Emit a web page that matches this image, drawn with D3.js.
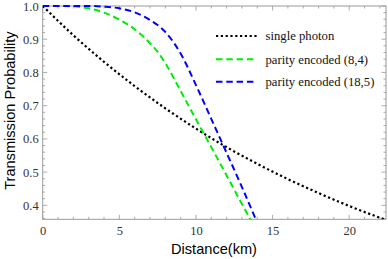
<!DOCTYPE html>
<html><head><meta charset="utf-8">
<script src="https://cdn.jsdelivr.net/npm/d3@7"></script>
<style>body{margin:0;background:#fff}svg{display:block}</style>
</head><body>
<script>
// Data
const singleX = [0, 2, 4, 6, 8, 10, 12, 14, 16, 18, 20, 22.4];
const singleY = [1.0, 0.912, 0.832, 0.759, 0.692, 0.631, 0.575, 0.525, 0.479, 0.437, 0.398, 0.356];
const p84X = [0, 1, 2, 3, 4, 5, 6, 7, 7.5, 8, 9, 10, 11, 12, 13, 13.55];
const p84Y = [1.0, 1.0, 0.999, 0.993, 0.980, 0.959, 0.930, 0.888, 0.862, 0.828, 0.744, 0.659, 0.575, 0.490, 0.404, 0.358];
const p185X = [0, 1, 2, 3, 4, 5, 6, 7, 8, 9, 10, 11, 12, 13, 13.9];
const p185Y = [1.0, 1.0, 1.0, 1.0, 0.998, 0.993, 0.981, 0.958, 0.922, 0.857, 0.762, 0.660, 0.558, 0.455, 0.358];
const seriesNames = ["single photon", "parity encoded (8,4)", "parity encoded (18,5)"];
const xTicks = [0, 5, 10, 15, 20];
const yTicks = [0.4, 0.5, 0.6, 0.7, 0.8, 0.9, 1.0];
const xLabel = "Distance(km)";
const yLabel = "Transmission Probability";

const W = 388, H = 259;
const L = 42.7, R = 386, T = 6, B = 219.3;
const svg = d3.select("body").append("svg").attr("width", W).attr("height", H);
const x = d3.scaleLinear().domain([0, 22.4]).range([L, R]);
const y = d3.scaleLinear().domain([0.358, 1.0]).range([B, T]);

const frame = "#999";
const tickFont = "'Liberation Serif','Times New Roman',serif";
const g = svg.append("g");

// minor/major ticks (inward) on all four sides
const xMinor = d3.range(0, 23, 1);
const yMinor = d3.range(0.36, 1.0001, 0.02).map(v => +v.toFixed(2));
xMinor.forEach(v => {
  const major = v % 5 === 0;
  const len = major ? 4.5 : 2.5;
  g.append("line").attr("x1", x(v)).attr("x2", x(v)).attr("y1", B).attr("y2", B - len).attr("stroke", frame).attr("stroke-width", 0.8);
  g.append("line").attr("x1", x(v)).attr("x2", x(v)).attr("y1", T).attr("y2", T + len).attr("stroke", frame).attr("stroke-width", 0.8);
});
yMinor.forEach(v => {
  const major = Math.abs(v * 10 - Math.round(v * 10)) < 1e-6;
  const len = major ? 4.5 : 2.5;
  g.append("line").attr("x1", L).attr("x2", L + len).attr("y1", y(v)).attr("y2", y(v)).attr("stroke", frame).attr("stroke-width", 0.8);
  g.append("line").attr("x1", R).attr("x2", R - len).attr("y1", y(v)).attr("y2", y(v)).attr("stroke", frame).attr("stroke-width", 0.8);
});

// axes via d3 (labels only; domain drawn as frame)
const xAxis = svg.append("g").attr("transform", `translate(0,${B})`)
  .call(d3.axisBottom(x).tickValues(xTicks).tickSize(0).tickPadding(7).tickFormat(d3.format("d")));
const yAxis = svg.append("g").attr("transform", `translate(${L},0)`)
  .call(d3.axisLeft(y).tickValues(yTicks).tickSize(0).tickPadding(4).tickFormat(d3.format(".1f")));
[xAxis, yAxis].forEach(a => {
  a.select(".domain").remove();
  a.selectAll("text").attr("font-family", tickFont).attr("font-size", 12.5).attr("fill", "#333");
});

svg.append("rect").attr("x", L).attr("y", T).attr("width", R - L).attr("height", B - T)
  .attr("fill", "none").attr("stroke", frame).attr("stroke-width", 1);

// clip
svg.append("clipPath").attr("id", "clip").append("rect").attr("x", L).attr("y", T - 2).attr("width", R - L).attr("height", B - T + 2);

const line = d3.line().curve(d3.curveMonotoneX).x(d => x(d[0])).y(d => y(d[1]));
const styles = [
  {xs: singleX, ys: singleY, color: "#000", dash: "2.2,2.6", w: 2.2},
  {xs: p84X, ys: p84Y, color: "#00ee00", dash: "6.5,3.8", w: 2},
  {xs: p185X, ys: p185Y, color: "#0000ff", dash: "6.5,3.8", w: 2}
];
const plot = svg.append("g").attr("clip-path", "url(#clip)");
styles.forEach(s => {
  plot.append("path").datum(s.xs.map((v, i) => [v, s.ys[i]]))
    .attr("d", line).attr("fill", "none").attr("stroke", s.color)
    .attr("stroke-width", s.w).attr("stroke-dasharray", s.dash);
});

// legend
const legY = [36, 59.3, 81.7];
styles.forEach((s, i) => {
  svg.append("line").attr("x1", 216).attr("x2", 257).attr("y1", legY[i]).attr("y2", legY[i])
    .attr("stroke", s.color).attr("stroke-width", s.w).attr("stroke-dasharray", s.dash);
  svg.append("text").attr("x", 265.5).attr("y", legY[i] + 4.3).text(seriesNames[i])
    .attr("font-family", tickFont).attr("font-size", 12.7).attr("fill", "#111");
});

// titles
svg.append("text").attr("x", 214).attr("y", 253.5).attr("text-anchor", "middle")
  .attr("font-family", "'Liberation Sans',Arial,sans-serif").attr("font-size", 14.6).text(xLabel);
svg.append("text").attr("transform", `translate(15,${(T + B) / 2 - 2}) rotate(-90)`).attr("text-anchor", "middle")
  .attr("font-family", "'Liberation Sans',Arial,sans-serif").attr("font-size", 14.6).text(yLabel);
</script>
</body></html>
